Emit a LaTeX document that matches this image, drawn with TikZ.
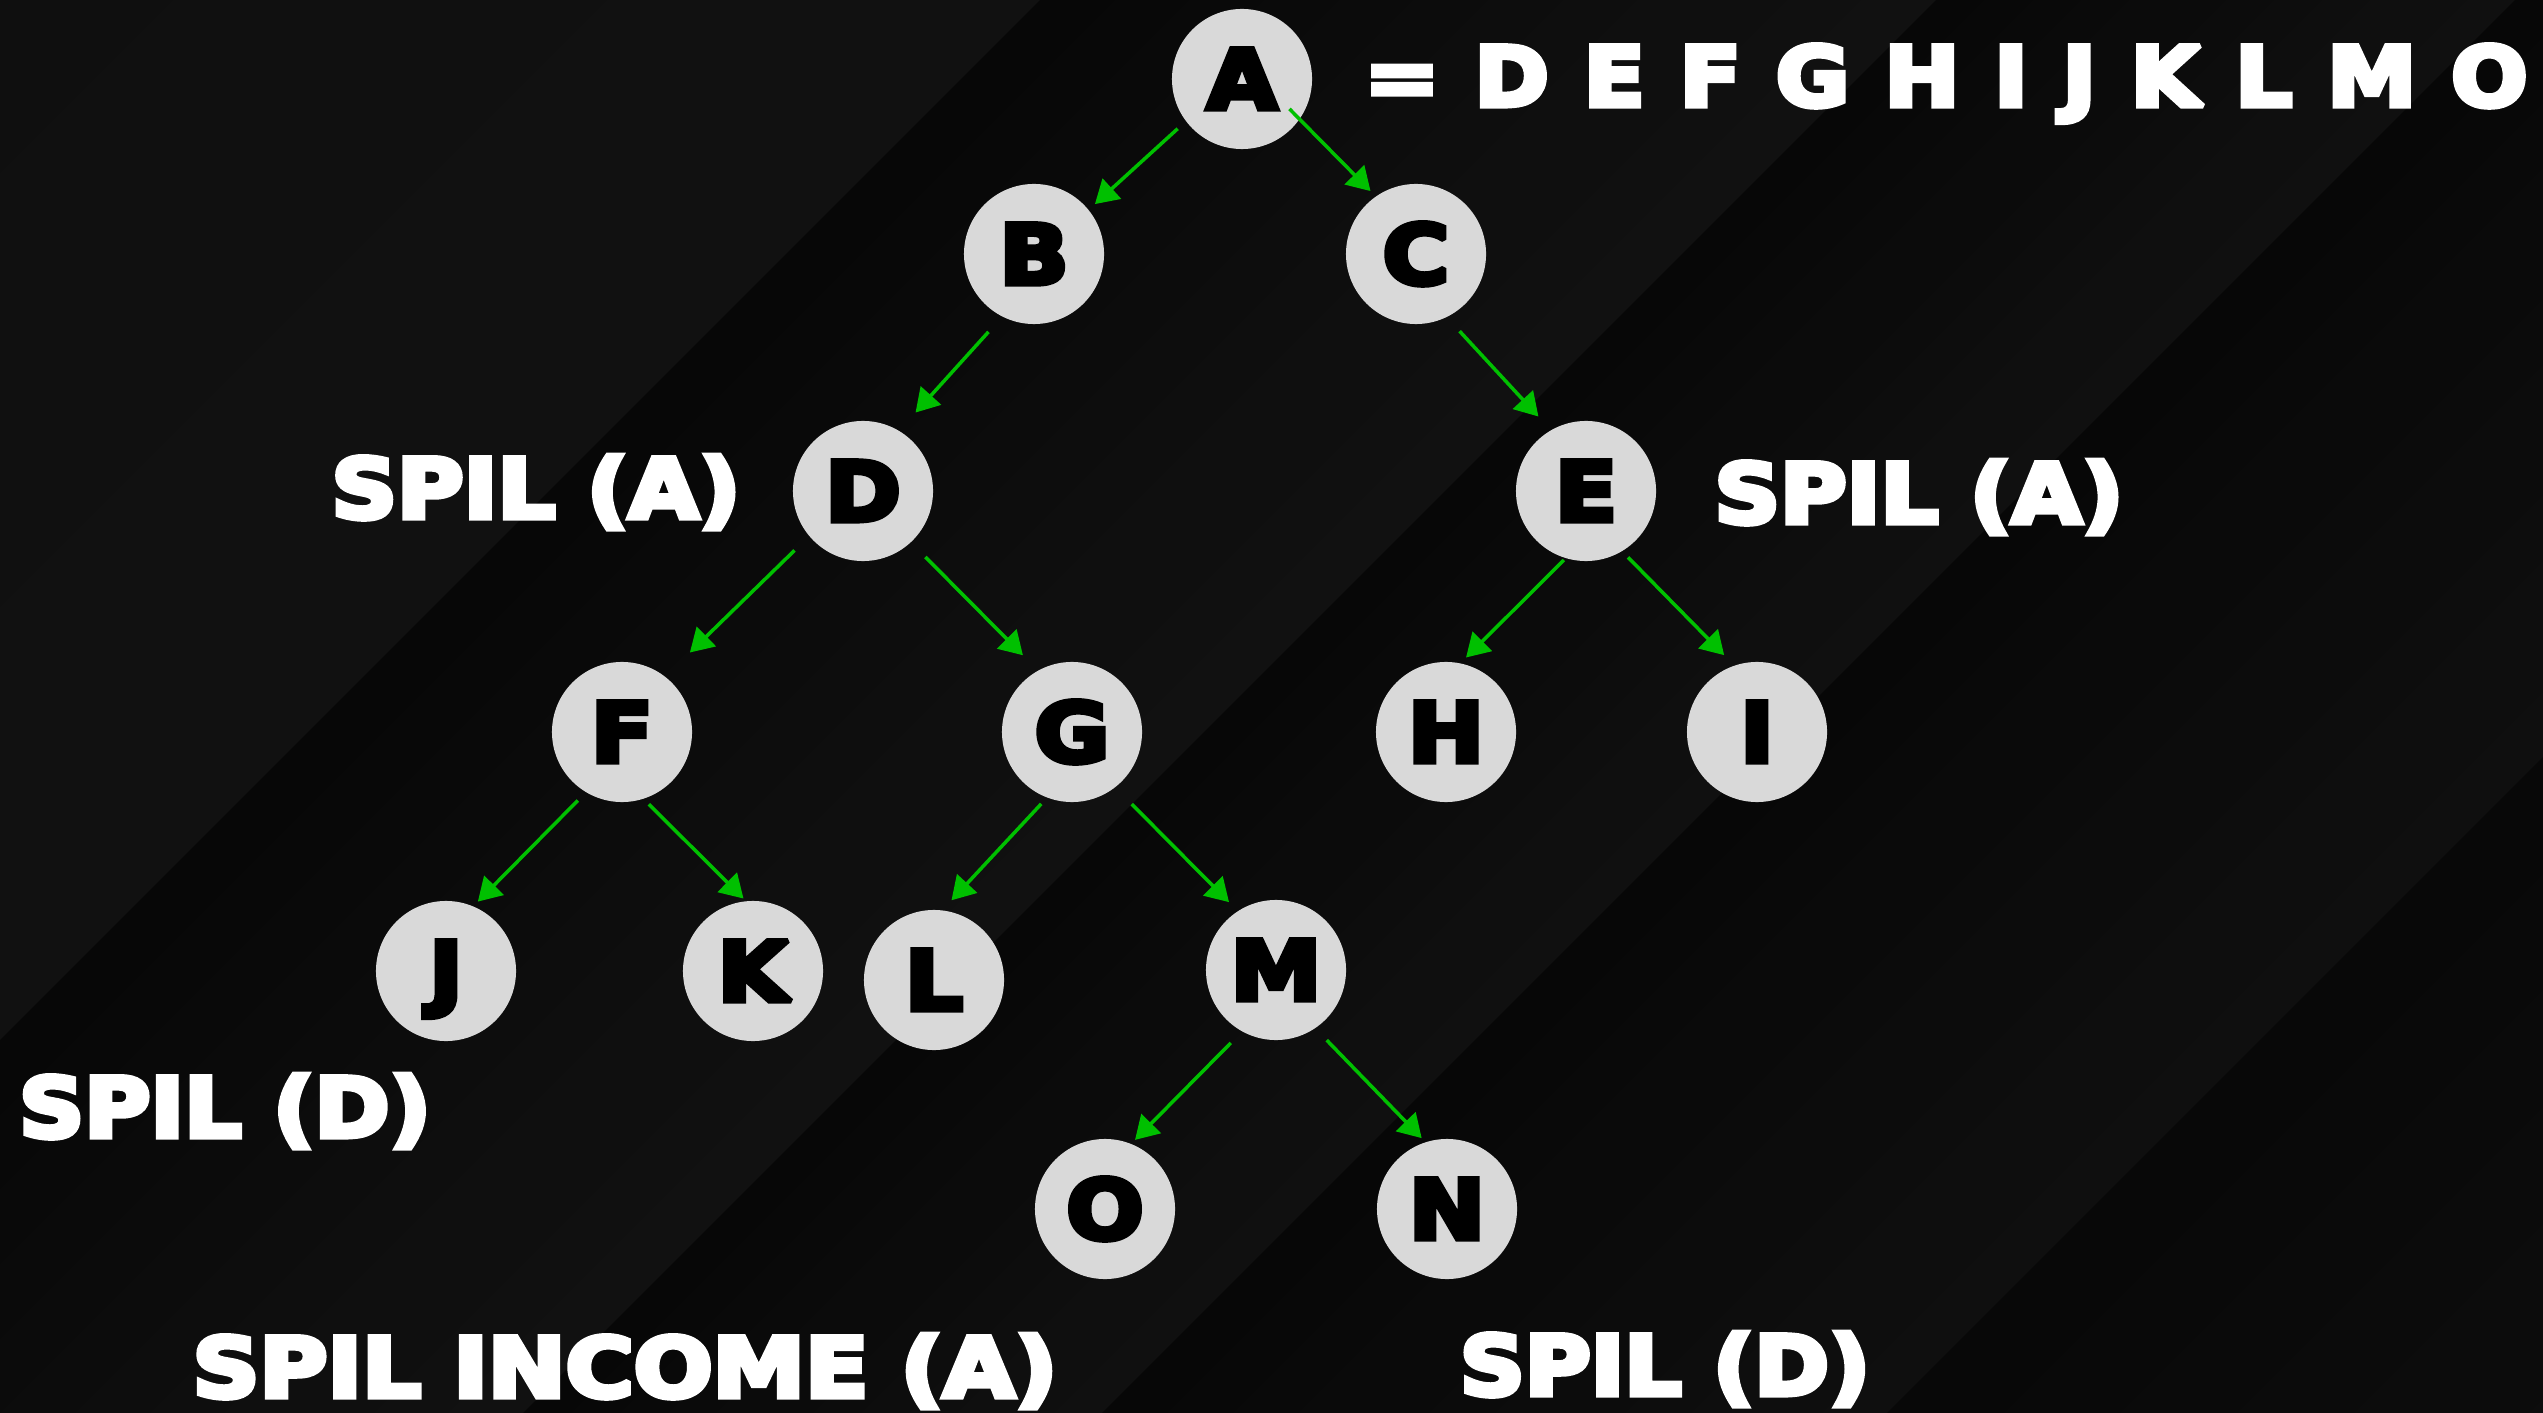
\documentclass[tikz,border=0pt]{standalone}
\usepackage{fontspec}
\usetikzlibrary{arrows.meta}
\newfontfamily\heavy{DejaVu Sans Bold}
\newcommand\fat[1]{\special{pdf:literal direct 2 Tr 1.5 w 0 j 2 M}#1\special{pdf:literal direct 0 Tr 10 M}}
\newcommand\wide[2]{\scalebox{#1}[1]{\fat{#2}}}
\definecolor{nodegray}{RGB}{217,217,217}
\definecolor{arrgreen}{RGB}{0,192,0}
\tikzset{
  nd/.style={circle, fill=nodegray, minimum size=1.40cm, inner sep=0pt, text=black,
    font=\heavy\fontsize{23.5pt}{28pt}\selectfont, text height=0.60cm, text depth=0pt},
  lab/.style={text=white, anchor=base, inner sep=0pt,
    font=\heavy\fontsize{23.5pt}{28pt}\selectfont},
  arr/.style={draw=arrgreen, line width=1pt, -{Triangle[length=0.23cm,width=0.27cm]}}
}
\begin{document}
\begin{tikzpicture}[x=0.01cm,y=-0.01cm]
\useasboundingbox (0,0) rectangle (2543,1413);
% background with diagonal bands
\begin{scope}
  \clip (0,0) rectangle (2543,1413);
  \fill[black!92] (0,0) rectangle (2543,1413);
  \foreach \a/\b/\ca/\cb in {0/1040/0.058/0.068, 1040/1936/0.026/0.066, 1936/2515/0.026/0.062, 2515/3300/0.027/0.058, 3300/4000/0.030/0.050} {
    \foreach \i in {0,...,11} {
      \pgfmathsetmacro\sa{\a+(\b-\a)*\i/12}
      \pgfmathsetmacro\sb{\a+(\b-\a)*(\i+1)/12+2}
      \pgfmathsetmacro\g{\ca+(\cb-\ca)*(\i/11)^0.8}
      \definecolor{bgtmp}{gray}{\g}
      \fill[bgtmp] (\sa+100,-100) -- (\sb+100,-100) -- (\sb-1513,1513) -- (\sa-1513,1513) -- cycle;
    }
  }
\end{scope}
% nodes
\node[nd] (A) at (1242,79) {\wide{1.1}{A}};
\node[nd] (B) at (1034,254) {\wide{1.1}{B}};
\node[nd] (C) at (1416,254) {\wide{1.1}{C}};
\node[nd] (D) at (863,491) {\wide{1.1}{D}};
\node[nd] (E) at (1586,491) {\wide{1.1}{E}};
\node[nd] (F) at (622,732) {\wide{1.1}{F}};
\node[nd] (G) at (1072,732) {\wide{1.1}{G}};
\node[nd] (H) at (1446,732) {\wide{1.1}{H}};
\node[nd] (I) at (1757,732) {\wide{1.1}{I}};
\node[nd] (J) at (446,971) {\wide{1.1}{J}};
\node[nd] (K) at (753,971) {\wide{1.1}{K}};
\node[nd] (L) at (934,980) {\wide{1.1}{L}};
\node[nd] (M) at (1276,970) {\wide{1.1}{M}};
\node[nd] (O) at (1105,1209) {\wide{1.1}{O}};
\node[nd] (N) at (1447,1209) {\wide{1.1}{N}};
% labels
\node[lab] (top) at (1946,106) {\spaceskip=0.39em\relax\wide{1.084}{= D E F G H I J K L M O}};
\node[lab] (l1) at (536,518) {\wide{1.10}{SPIL (A)}};
\node[lab] (l2) at (1919,523) {\wide{1.10}{SPIL (A)}};
\node[lab] (l3) at (225,1137) {\wide{1.094}{SPIL (D)}};
\node[lab] (l4) at (625,1397) {\wide{1.123}{SPIL INCOME (A)}};
\node[lab] (l5) at (1665,1395) {\wide{1.09}{SPIL (D)}};
% connectors
\draw[arr, shorten <=0.106cm, shorten >=0.08cm] (A.217.4) -- (B.39.8);
\draw[arr, shorten <=-0.15cm, shorten >=0.07cm] (A.325.7) -- (C.125.5);
\draw[arr, shorten <=0.20cm, shorten >=0.24cm] (B.243.7) -- (D.59.9);
\draw[arr, shorten <=0.185cm, shorten >=0.18cm] (C.296.9) -- (E.120.6);
\draw[arr, shorten <=0.20cm, shorten >=0.34cm] (D.220.9) -- (F.52.8);
\draw[arr, shorten <=0.20cm, shorten >=0.21cm] (D.313.6) -- (G.119.7);
\draw[arr, shorten <=0.02cm, shorten >=0.075cm] (E.253.8) -- (H.78.8);
\draw[arr, shorten <=0.08cm, shorten >=0.14cm] (E.301.8) -- (I.109.5);
\draw[arr, shorten <=0.11cm, shorten >=0.06cm] (F.239.6) -- (J.67.5);
\draw[arr, shorten <=0.07cm, shorten >=0.03cm] (F.288.2) -- (K.96.3);
\draw[arr, shorten <=0.08cm, shorten >=0.13cm] (G.249.7) -- (L.83);
\draw[arr, shorten <=0.23cm, shorten >=0.12cm] (G.308) -- (M.123.1);
\draw[arr, shorten <=0.155cm, shorten >=0.05cm] (M.241.3) -- (O.68.9);
\draw[arr, shorten <=0.16cm, shorten >=0.05cm] (M.304.1) -- (N.108);
\end{tikzpicture}
\end{document}
